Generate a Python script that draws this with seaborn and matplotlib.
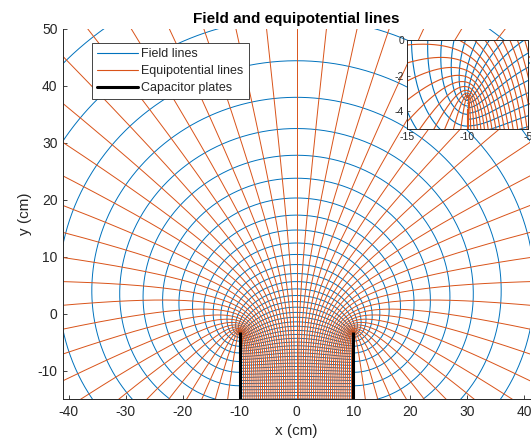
import numpy as np
import pandas as pd
import matplotlib
matplotlib.use("Agg")
import matplotlib.pyplot as plt
from matplotlib.lines import Line2D
import seaborn as sns

# capacitor geometry (cm)
half_gap = 10.0
plate_x = [-10.0, 10.0]
plate_bottom = -15.0

# line labels: field lines step pi/18 in u, equipotentials step pi/27 in v
field_index = list(range(-30, 21))
equip_index = list(range(-27, 28))
field_step = np.pi / 18
equip_step = np.pi / 27

main_xlim = [-41, 41]
main_ylim = [-15, 50]
main_xticks = [-40, -30, -20, -10, 0, 10, 20, 30, 40]
main_yticks = [-10, 0, 10, 20, 30, 40, 50]
inset_xlim = [-15, -5]
inset_ylim = [-5, 0]
inset_xticks = [-15, -10, -5]
inset_yticks = [-4, -2, 0]

BLUE = "#0072BD"
ORANGE = "#D95319"
INK = "#262626"


def to_xy(u, v):
    # w = u + iv  ->  z = (d/pi) (w + e^w), rotated so the plates point down
    a = half_gap / np.pi
    x = a * (v + np.exp(u) * np.sin(v))
    y = a * (u + np.exp(u) * np.cos(v))
    return x, y


def build_lines():
    rows = []
    v_run = np.linspace(-np.pi, np.pi, 900)
    for k in field_index:
        x, y = to_xy(np.full_like(v_run, k * field_step), v_run)
        rows.append(pd.DataFrame({"x": x, "y": y, "line": f"f{k}", "kind": "field"}))
    u_run = np.concatenate([np.linspace(-7, -0.6, 300), np.linspace(-0.6, 0.6, 400),
                            np.linspace(0.6, 3.8, 300)])
    for j in equip_index:
        x, y = to_xy(u_run, np.full_like(u_run, j * equip_step))
        rows.append(pd.DataFrame({"x": x, "y": y, "line": f"e{j}", "kind": "equip"}))
    return pd.concat(rows, ignore_index=True)


def draw_grid(ax, df, lw):
    sns.lineplot(data=df[df.kind == "field"], x="x", y="y", units="line",
                 estimator=None, sort=False, color=BLUE, lw=lw, ax=ax, legend=False)
    sns.lineplot(data=df[df.kind == "equip"], x="x", y="y", units="line",
                 estimator=None, sort=False, color=ORANGE, lw=lw, ax=ax, legend=False)


sns.set_theme(style="ticks")
plt.rcParams["font.family"] = ["Liberation Sans", "DejaVu Sans"]
plt.rcParams["axes.edgecolor"] = INK
plt.rcParams["xtick.color"] = INK
plt.rcParams["ytick.color"] = INK
plt.rcParams["axes.unicode_minus"] = False

df = build_lines()

fig = plt.figure(figsize=(5.31, 4.42), dpi=100)
ax = fig.add_axes([63 / 531, 43 / 442, 467 / 531, 370 / 442])
draw_grid(ax, df, 0.7)
for px in plate_x:
    ax.plot([px, px], [-half_gap / np.pi, plate_bottom], color="black", lw=2.2,
            solid_capstyle="butt")
ax.set_xlim(main_xlim)
ax.set_ylim(main_ylim)
ax.set_xticks(main_xticks)
ax.set_yticks(main_yticks)
ax.tick_params(direction="in", length=3, width=0.6, labelsize=10, pad=4)
for s in ("top", "right"):
    ax.spines[s].set_visible(False)
for s in ("left", "bottom"):
    ax.spines[s].set_linewidth(0.7)
ax.set_xlabel("x (cm)", fontsize=11, color=INK, labelpad=4)
ax.set_ylabel("y (cm)", fontsize=11, color=INK, labelpad=4)
ax.set_title("Field and equipotential lines", fontsize=11, fontweight="bold",
             color="black", pad=4)

handles = [Line2D([], [], color=BLUE, lw=0.8),
           Line2D([], [], color=ORANGE, lw=0.8),
           Line2D([], [], color="black", lw=2.2)]
leg = ax.legend(handles, ["Field lines", "Equipotential lines", "Capacitor plates"],
                loc="upper left", bbox_to_anchor=(0.062, 0.962), borderaxespad=0,
                fontsize=9, frameon=True, fancybox=False, framealpha=1,
                handlelength=3.3, handletextpad=0.25, borderpad=0.4, labelspacing=0.4)
leg.get_frame().set_edgecolor(INK)
leg.get_frame().set_linewidth(0.6)

ins = fig.add_axes([407 / 531, (442 - 129) / 442, 121 / 531, 89 / 442])
ins.set_facecolor("white")
draw_grid(ins, df, 0.8)
ins.set_xlim(inset_xlim)
ins.set_ylim(inset_ylim)
ins.set_xticks(inset_xticks)
ins.set_yticks(inset_yticks)
ins.set_xlabel("")
ins.set_ylabel("")
ins.tick_params(direction="in", length=2, width=0.5, labelsize=7.5, pad=2)
for s in ins.spines.values():
    s.set_visible(True)
    s.set_linewidth(0.7)

fig.savefig("out.png", dpi=100)
